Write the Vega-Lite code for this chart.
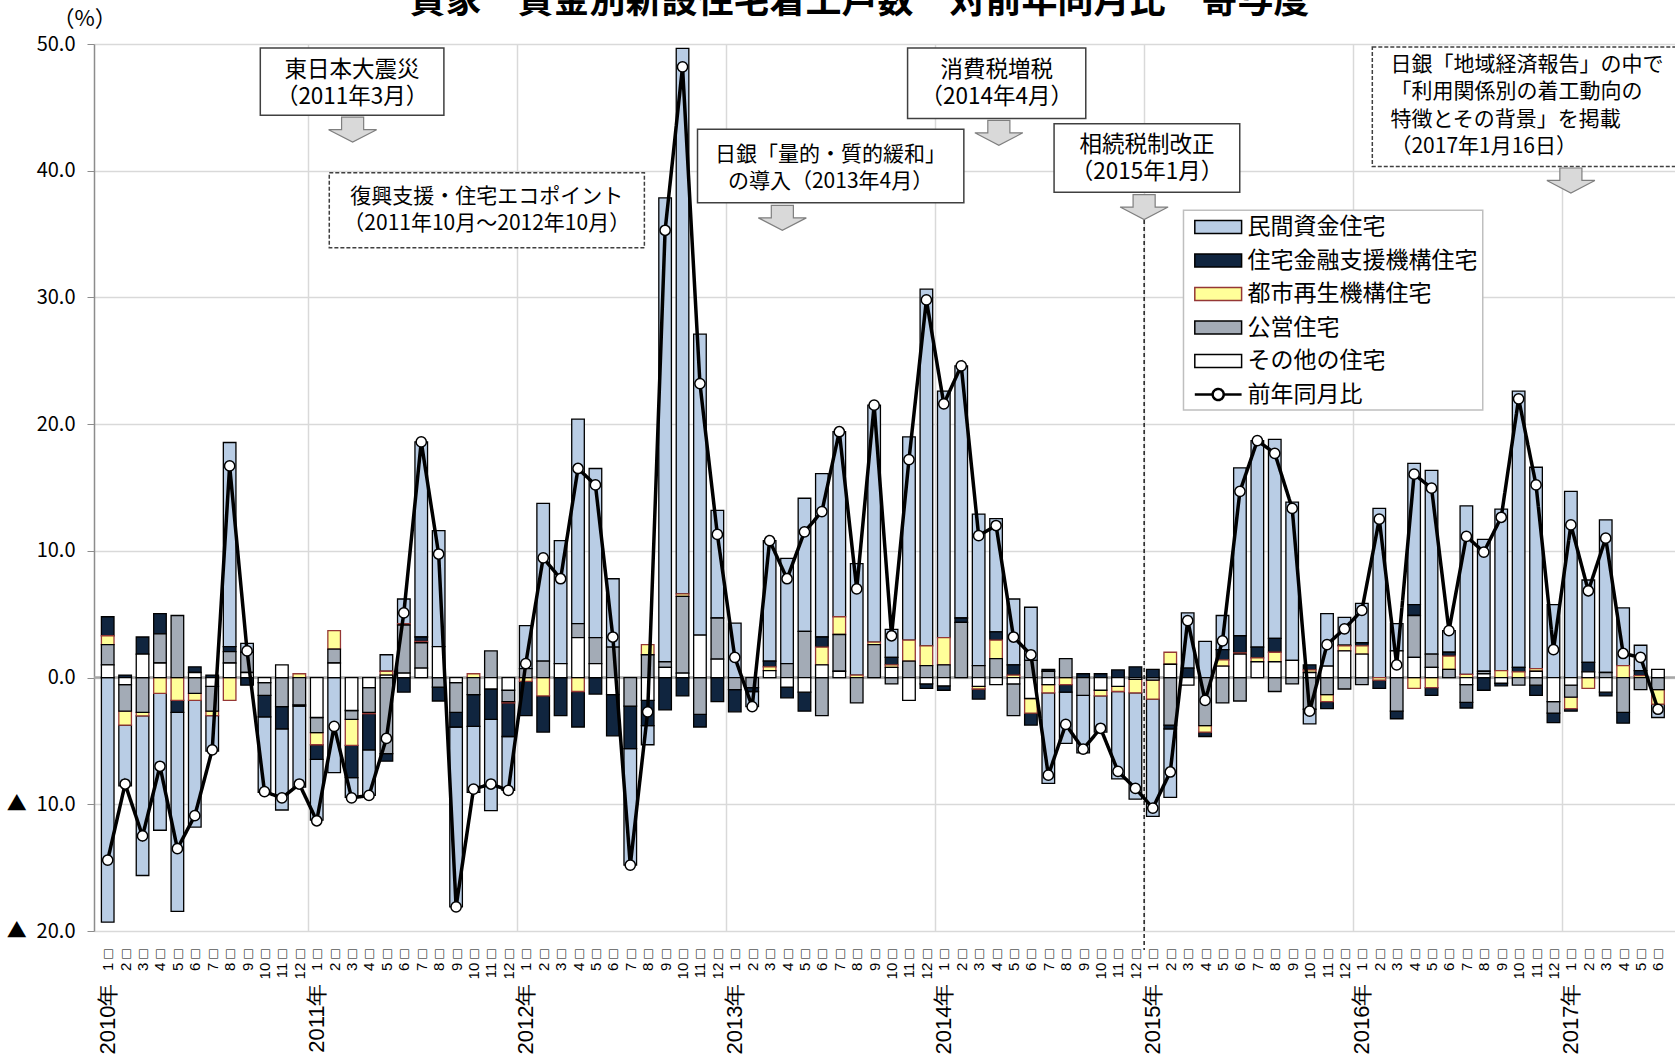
{
  "$schema": "https://vega.github.io/schema/vega-lite/v6.json",
  "width": 1581,
  "height": 887,
  "autosize": {"type": "none"},
  "padding": {"left": 94, "top": 44, "right": 0, "bottom": 127},
  "background": "white",
  "title": {
    "text": "貸家　資金別新設住宅着工戸数　対前年同月比　寄与度",
    "font": "Noto Sans CJK JP",
    "fontSize": 36,
    "fontWeight": "bold",
    "color": "black",
    "anchor": "middle",
    "frame": "group",
    "dx": -25,
    "dy": 18,
    "offset": 4
  },
  "config": {"view": {"stroke": null}, "font": "Noto Sans CJK JP"},
  "datasets": {
    "series": [
      {"key": "sonota", "name": "その他の住宅", "rank": 1},
      {"key": "koei", "name": "公営住宅", "rank": 2},
      {"key": "toshi", "name": "都市再生機構住宅", "rank": 3},
      {"key": "kinyu", "name": "住宅金融支援機構住宅", "rank": 4},
      {"key": "minkan", "name": "民間資金住宅", "rank": 5}
    ],
    "months": [
      {"n": 0, "minkan": -19.3, "kinyu": 1.5, "toshi": 0.7, "koei": 1.6, "sonota": 1.0, "yoy": -14.4},
      {"n": 1, "minkan": -4.8, "kinyu": 0.2, "toshi": -1.1, "koei": -2.1, "sonota": -0.55, "yoy": -8.4},
      {"n": 2, "minkan": -12.6, "kinyu": 1.35, "toshi": -0.27, "koei": -2.75, "sonota": 1.85, "yoy": -12.5},
      {"n": 3, "minkan": -10.8, "kinyu": 1.6, "toshi": -1.25, "koei": 2.3, "sonota": 1.15, "yoy": -7.0},
      {"n": 4, "minkan": -15.7, "kinyu": -0.95, "toshi": -1.8, "koei": 4.9, "sonota": 0, "yoy": -13.5},
      {"n": 5, "minkan": -10.0, "kinyu": 0.45, "toshi": -0.55, "koei": -1.25, "sonota": 0.4, "yoy": -10.9},
      {"n": 6, "minkan": -2.8, "kinyu": 0.2, "toshi": -0.35, "koei": -1.95, "sonota": -0.7, "yoy": -5.7},
      {"n": 7, "minkan": 16.1, "kinyu": 0.4, "toshi": -1.8, "koei": 0.9, "sonota": 1.15, "yoy": 16.7},
      {"n": 8, "minkan": 0.7, "kinyu": -0.6, "toshi": 0, "koei": 1.6, "sonota": 0.4, "yoy": 2.1},
      {"n": 9, "minkan": -5.95, "kinyu": -1.7, "toshi": 0, "koei": -1.0, "sonota": -0.4, "yoy": -9.0},
      {"n": 10, "minkan": -6.4, "kinyu": -1.75, "toshi": 0, "koei": -2.3, "sonota": 1.0, "yoy": -9.5},
      {"n": 11, "minkan": -6.4, "kinyu": -0.1, "toshi": 0.3, "koei": -2.15, "sonota": 0, "yoy": -8.4},
      {"n": 12, "minkan": -4.8, "kinyu": -1.15, "toshi": -0.95, "koei": -1.2, "sonota": -3.15, "yoy": -11.3},
      {"n": 13, "minkan": -7.5, "kinyu": 0, "toshi": 1.45, "koei": 1.1, "sonota": 1.15, "yoy": -3.85},
      {"n": 14, "minkan": -1.55, "kinyu": -2.55, "toshi": -2.05, "koei": -0.7, "sonota": -2.6, "yoy": -9.5},
      {"n": 15, "minkan": -3.6, "kinyu": -2.85, "toshi": -0.1, "koei": -1.95, "sonota": -0.8, "yoy": -9.3},
      {"n": 16, "minkan": 1.3, "kinyu": -0.6, "toshi": 0.3, "koei": -6.0, "sonota": 0.2, "yoy": -4.8},
      {"n": 17, "minkan": 1.95, "kinyu": -1.15, "toshi": 0.1, "koei": 3.8, "sonota": 0.35, "yoy": 5.1},
      {"n": 18, "minkan": 15.4, "kinyu": 0.35, "toshi": 0.1, "koei": 2.0, "sonota": 0.75, "yoy": 18.6},
      {"n": 19, "minkan": 9.15, "kinyu": -1.1, "toshi": 0, "koei": -0.75, "sonota": 2.45, "yoy": 9.75},
      {"n": 20, "minkan": -14.2, "kinyu": -1.15, "toshi": 0, "koei": -2.35, "sonota": -0.4, "yoy": -18.1},
      {"n": 21, "minkan": -5.2, "kinyu": -2.5, "toshi": 0.3, "koei": -1.35, "sonota": 0, "yoy": -8.8},
      {"n": 22, "minkan": -7.2, "kinyu": -2.4, "toshi": 0, "koei": 2.1, "sonota": -0.9, "yoy": -8.4},
      {"n": 23, "minkan": -4.25, "kinyu": -2.65, "toshi": -0.1, "koei": -0.9, "sonota": -1.0, "yoy": -8.9},
      {"n": 24, "minkan": 3.4, "kinyu": -2.7, "toshi": -0.3, "koei": 0.7, "sonota": 0, "yoy": 1.1},
      {"n": 25, "minkan": 12.45, "kinyu": -2.85, "toshi": -1.45, "koei": 1.3, "sonota": 0, "yoy": 9.45},
      {"n": 26, "minkan": 9.7, "kinyu": -3.0, "toshi": 0, "koei": 0, "sonota": 1.1, "yoy": 7.8},
      {"n": 27, "minkan": 16.15, "kinyu": -2.8, "toshi": -1.1, "koei": 1.1, "sonota": 3.15, "yoy": 16.5},
      {"n": 28, "minkan": 13.35, "kinyu": -1.3, "toshi": 0, "koei": 2.05, "sonota": 1.1, "yoy": 15.2},
      {"n": 29, "minkan": 5.4, "kinyu": -3.25, "toshi": 0, "koei": 2.4, "sonota": -1.35, "yoy": 3.2},
      {"n": 30, "minkan": -9.2, "kinyu": -3.35, "toshi": 0, "koei": -2.25, "sonota": 0, "yoy": -14.8},
      {"n": 31, "minkan": -1.5, "kinyu": -2.0, "toshi": 0.8, "koei": 1.8, "sonota": -1.8, "yoy": -2.7},
      {"n": 32, "minkan": 36.6, "kinyu": -2.55, "toshi": 0, "koei": 0.45, "sonota": 0.8, "yoy": 35.3},
      {"n": 33, "minkan": 43.05, "kinyu": -1.45, "toshi": 0.2, "koei": 6.05, "sonota": 0.35, "yoy": 48.2},
      {"n": 34, "minkan": 23.75, "kinyu": -1.0, "toshi": 0, "koei": -2.9, "sonota": 3.35, "yoy": 23.2},
      {"n": 35, "minkan": 8.5, "kinyu": -1.9, "toshi": 0, "koei": 3.25, "sonota": 1.45, "yoy": 11.3},
      {"n": 36, "minkan": 4.3, "kinyu": -1.75, "toshi": 0, "koei": -0.95, "sonota": 0, "yoy": 1.6},
      {"n": 37, "minkan": -1.2, "kinyu": -0.3, "toshi": 0, "koei": -0.8, "sonota": 0, "yoy": -2.3},
      {"n": 38, "minkan": 9.5, "kinyu": 0.45, "toshi": 0.3, "koei": 0, "sonota": 0.55, "yoy": 10.8},
      {"n": 39, "minkan": 8.3, "kinyu": -0.85, "toshi": 0, "koei": 1.1, "sonota": -0.75, "yoy": 7.8},
      {"n": 40, "minkan": 10.5, "kinyu": -1.5, "toshi": 0, "koei": 3.65, "sonota": -1.15, "yoy": 11.5},
      {"n": 41, "minkan": 12.9, "kinyu": 0.8, "toshi": 1.4, "koei": -3.0, "sonota": 1.0, "yoy": 13.1},
      {"n": 42, "minkan": 14.6, "kinyu": 0, "toshi": 1.4, "koei": 2.9, "sonota": 0.5, "yoy": 19.4},
      {"n": 43, "minkan": 8.8, "kinyu": 0, "toshi": 0.2, "koei": -2.0, "sonota": 0, "yoy": 7.0},
      {"n": 44, "minkan": 18.7, "kinyu": 0, "toshi": 0.2, "koei": 2.6, "sonota": 0, "yoy": 21.5},
      {"n": 45, "minkan": 2.2, "kinyu": 0.6, "toshi": 0.2, "koei": -0.5, "sonota": 0.8, "yoy": 3.3},
      {"n": 46, "minkan": 16.05, "kinyu": 0, "toshi": 1.65, "koei": 1.3, "sonota": -1.8, "yoy": 17.2},
      {"n": 47, "minkan": 28.15, "kinyu": -0.35, "toshi": 1.55, "koei": 0.95, "sonota": -0.5, "yoy": 29.8},
      {"n": 48, "minkan": 19.45, "kinyu": -0.35, "toshi": 2.15, "koei": 1.0, "sonota": -0.65, "yoy": 21.6},
      {"n": 49, "minkan": 19.9, "kinyu": 0.35, "toshi": 0, "koei": 4.35, "sonota": 0, "yoy": 24.6},
      {"n": 50, "minkan": 11.95, "kinyu": -0.8, "toshi": -0.2, "koei": 0.95, "sonota": -0.7, "yoy": 11.2},
      {"n": 51, "minkan": 8.95, "kinyu": 0.65, "toshi": 1.45, "koei": 1.5, "sonota": -0.55, "yoy": 12.0},
      {"n": 52, "minkan": 5.2, "kinyu": 0.8, "toshi": 0.2, "koei": -2.5, "sonota": -0.5, "yoy": 3.2},
      {"n": 53, "minkan": 4.2, "kinyu": -0.95, "toshi": -1.15, "koei": 1.35, "sonota": -1.65, "yoy": 1.8},
      {"n": 54, "minkan": -7.15, "kinyu": 0.15, "toshi": -0.65, "koei": 0.5, "sonota": -0.55, "yoy": -7.7},
      {"n": 55, "minkan": -4.05, "kinyu": -0.6, "toshi": -0.55, "koei": 1.5, "sonota": 0, "yoy": -3.7},
      {"n": 56, "minkan": -4.55, "kinyu": 0.3, "toshi": 0, "koei": -1.4, "sonota": 0, "yoy": -5.65},
      {"n": 57, "minkan": -2.85, "kinyu": 0.3, "toshi": -0.45, "koei": 0, "sonota": -1.0, "yoy": -4.0},
      {"n": 58, "minkan": -6.9, "kinyu": 0.6, "toshi": -0.4, "koei": 0, "sonota": -0.7, "yoy": -7.4},
      {"n": 59, "minkan": -8.4, "kinyu": 0.85, "toshi": -1.05, "koei": 0, "sonota": -0.15, "yoy": -8.75},
      {"n": 60, "minkan": -9.25, "kinyu": 0.65, "toshi": -1.5, "koei": -0.2, "sonota": 0, "yoy": -10.3},
      {"n": 61, "minkan": -5.4, "kinyu": -0.3, "toshi": 0.95, "koei": -3.75, "sonota": 1.05, "yoy": -7.45},
      {"n": 62, "minkan": 4.35, "kinyu": 0.75, "toshi": 0, "koei": 0, "sonota": -0.6, "yoy": 4.5},
      {"n": 63, "minkan": 2.85, "kinyu": -0.35, "toshi": -0.5, "koei": -3.8, "sonota": 0, "yoy": -1.8},
      {"n": 64, "minkan": 2.7, "kinyu": 0.8, "toshi": 0.5, "koei": -2.0, "sonota": 0.9, "yoy": 2.9},
      {"n": 65, "minkan": 13.25, "kinyu": 1.35, "toshi": 0.1, "koei": -1.85, "sonota": 1.85, "yoy": 14.7},
      {"n": 66, "minkan": 16.3, "kinyu": 0.85, "toshi": 0.3, "koei": 0, "sonota": 1.25, "yoy": 18.7},
      {"n": 67, "minkan": 15.7, "kinyu": 1.1, "toshi": 0.75, "koei": -1.1, "sonota": 1.25, "yoy": 17.7},
      {"n": 68, "minkan": 12.5, "kinyu": 0, "toshi": 0, "koei": -0.5, "sonota": 1.35, "yoy": 13.35},
      {"n": 69, "minkan": -1.15, "kinyu": 0.4, "toshi": 0.2, "koei": -2.5, "sonota": 0.4, "yoy": -2.65},
      {"n": 70, "minkan": 4.15, "kinyu": -0.55, "toshi": -0.55, "koei": -1.35, "sonota": 0.9, "yoy": 2.6},
      {"n": 71, "minkan": 2.2, "kinyu": 0.05, "toshi": 0.4, "koei": -0.9, "sonota": 2.1, "yoy": 3.85},
      {"n": 72, "minkan": 3.1, "kinyu": 0.25, "toshi": 0.65, "koei": -0.55, "sonota": 1.85, "yoy": 5.3},
      {"n": 73, "minkan": 13.35, "kinyu": -0.65, "toshi": -0.2, "koei": 0, "sonota": 0, "yoy": 12.5},
      {"n": 74, "minkan": 2.15, "kinyu": -0.6, "toshi": 0, "koei": -2.65, "sonota": 2.1, "yoy": 1.0},
      {"n": 75, "minkan": 11.15, "kinyu": 0.85, "toshi": -0.85, "koei": 3.3, "sonota": 1.6, "yoy": 16.05},
      {"n": 76, "minkan": 14.5, "kinyu": -0.6, "toshi": -0.8, "koei": 1.05, "sonota": 0.8, "yoy": 14.95},
      {"n": 77, "minkan": 1.7, "kinyu": 0.3, "toshi": 1.05, "koei": 0.65, "sonota": 0, "yoy": 3.7},
      {"n": 78, "minkan": 13.3, "kinyu": -0.45, "toshi": 0.25, "koei": -1.4, "sonota": -0.55, "yoy": 11.15},
      {"n": 79, "minkan": 10.4, "kinyu": -1.0, "toshi": 0, "koei": 0.2, "sonota": 0.3, "yoy": 9.9},
      {"n": 80, "minkan": 12.75, "kinyu": -0.2, "toshi": 0.55, "koei": 0, "sonota": -0.45, "yoy": 12.65},
      {"n": 81, "minkan": 21.8, "kinyu": 0.35, "toshi": 0.45, "koei": -0.6, "sonota": 0, "yoy": 22.0},
      {"n": 82, "minkan": 15.9, "kinyu": -0.8, "toshi": 0.2, "koei": -0.6, "sonota": 0.5, "yoy": 15.2},
      {"n": 83, "minkan": 5.75, "kinyu": -0.75, "toshi": 0, "koei": -0.9, "sonota": -1.9, "yoy": 2.2},
      {"n": 84, "minkan": 14.7, "kinyu": -0.2, "toshi": -0.9, "koei": -0.95, "sonota": -0.6, "yoy": 12.05},
      {"n": 85, "minkan": 6.5, "kinyu": 0.75, "toshi": -0.85, "koei": 0, "sonota": 0.45, "yoy": 6.85},
      {"n": 86, "minkan": 12.05, "kinyu": -0.3, "toshi": 0, "koei": 0.4, "sonota": -1.15, "yoy": 11.0},
      {"n": 87, "minkan": 4.55, "kinyu": -0.85, "toshi": 0.95, "koei": -2.75, "sonota": 0, "yoy": 1.9},
      {"n": 88, "minkan": 2.0, "kinyu": 0.4, "toshi": 0.15, "koei": -0.95, "sonota": 0, "yoy": 1.6},
      {"n": 89, "minkan": -1.05, "kinyu": 0, "toshi": -1.15, "koei": -0.95, "sonota": 0.65, "yoy": -2.5}
    ]
  },
  "resolve": {"axis": {"x": "independent", "y": "independent"}},
  "layer": [
    {
      "data": {"name": "months"},
      "mark": {"type": "line", "color": "black", "strokeWidth": 3.5, "opacity": 0},
      "encoding": {
        "x": {
          "field": "n", "type": "quantitative",
          "scale": {"domain": [-0.5, 89.69], "nice": false, "zero": false},
          "axis": {
            "orient": "top",
            "values": [11.5, 23.5, 35.5, 47.5, 59.5, 71.5, 83.5],
            "grid": true, "gridColor": "#d9d9d9", "gridWidth": 1.5,
            "labels": false, "ticks": false, "domain": false, "title": null
          }
        },
        "y": {
          "field": "yoy", "type": "quantitative",
          "scale": {"domain": [-20, 50], "nice": false, "zero": false},
          "axis": {
            "orient": "left",
            "values": [-20, -10, 0, 10, 20, 30, 40, 50],
            "labelExpr": "datum.value < 0 ? '▲\u2002' + format(-datum.value, '.1f') : format(datum.value, '.1f')",
            "labelFont": "Noto Sans CJK JP",
            "labelFontSize": 20,
            "labelColor": "black",
            "labelPadding": 12,
            "tickSize": 7, "tickColor": "#8c8c8c",
            "domainColor": "#8c8c8c", "domainWidth": 1.5,
            "grid": true, "gridColor": "#d9d9d9", "gridWidth": 1.5,
            "title": "（%）",
            "titleAngle": 0, "titleX": -10, "titleY": -26,
            "titleAlign": "center", "titleBaseline": "middle",
            "titleFont": "Noto Sans CJK JP", "titleFontSize": 22, "titleFontWeight": "normal", "titleColor": "black"
          }
        }
      }
    },
    {
      "data": {"values": [{}]},
      "mark": {"type": "rule", "stroke": "#a6a6a6", "strokeWidth": 2.5},
      "encoding": {
        "y": {"datum": 0, "type": "quantitative", "axis": null}
      }
    },
    {
      "data": {"name": "months"},
      "transform": [
        {"fold": ["minkan", "kinyu", "toshi", "koei", "sonota"], "as": ["key", "value"]},
        {"filter": "datum.value != 0"},
        {"lookup": "key", "from": {"data": {"name": "series"}, "key": "key", "fields": ["name", "rank"]}}
      ],
      "mark": {"type": "bar", "orient": "vertical", "width": 12.6, "strokeWidth": 1.3},
      "encoding": {
        "x": {"field": "n", "type": "quantitative", "axis": null},
        "y": {"field": "value", "type": "quantitative", "stack": "zero", "axis": null},
        "fill": {
          "field": "name", "type": "nominal",
          "scale": {
            "domain": ["民間資金住宅", "住宅金融支援機構住宅", "都市再生機構住宅", "公営住宅", "その他の住宅"],
            "range": ["#b9cde5", "#10253f", "#ffff99", "#a3abb6", "#ffffff"]
          },
          "legend": {
            "orient": "none", "legendX": 1112.7, "legendY": 171.5, "title": null, "padding": 0,
            "symbolType": "M-3.6,-1H3.6V1H-3.6Z", "symbolSize": 169, "symbolStrokeWidth": 1.5,
            "labelFont": "Noto Sans CJK JP", "labelFontSize": 23, "labelColor": "black",
            "labelOffset": 17.7, "rowPadding": 9.5, "labelLimit": 400
          }
        },
        "stroke": {
          "field": "name", "type": "nominal",
          "scale": {
            "domain": ["民間資金住宅", "住宅金融支援機構住宅", "都市再生機構住宅", "公営住宅", "その他の住宅"],
            "range": ["#000000", "#000000", "#953735", "#000000", "#000000"]
          },
          "legend": {
            "orient": "none", "legendX": 1112.7, "legendY": 171.5, "title": null, "padding": 0,
            "symbolType": "M-3.6,-1H3.6V1H-3.6Z", "symbolSize": 169, "symbolStrokeWidth": 1.5,
            "labelFont": "Noto Sans CJK JP", "labelFontSize": 23, "labelColor": "black",
            "labelOffset": 17.7, "rowPadding": 9.5, "labelLimit": 400
          }
        },
        "order": {"field": "rank", "type": "quantitative", "sort": "ascending"}
      }
    },
    {
      "data": {"name": "months"},
      "mark": {"type": "line", "color": "black", "strokeWidth": 3.5},
      "encoding": {
        "x": {
          "field": "n", "type": "quantitative",
          "axis": {
            "orient": "bottom",
            "values": [0,1,2,3,4,5,6,7,8,9,10,11,12,13,14,15,16,17,18,19,20,21,22,23,24,25,26,27,28,29,30,31,32,33,34,35,36,37,38,39,40,41,42,43,44,45,46,47,48,49,50,51,52,53,54,55,56,57,58,59,60,61,62,63,64,65,66,67,68,69,70,71,72,73,74,75,76,77,78,79,80,81,82,83,84,85,86,87,88,89],
            "labelExpr": "toString(datum.value % 12 + 1) + ' □'",
            "labelAngle": -90, "labelAlign": "right", "labelBaseline": "middle",
            "labelFont": "Liberation Sans, Noto Sans CJK JP, sans-serif", "labelFontSize": 15, "labelColor": "black",
            "labelPadding": 18, "labelOverlap": false, "labelFlush": false, "labelBound": false,
            "ticks": false, "domain": false, "grid": false, "title": null
          }
        },
        "y": {"field": "yoy", "type": "quantitative", "axis": null},
        "strokeDash": {
          "datum": "前年同月比",
          "scale": {"domain": ["前年同月比"], "range": [[1, 0]]},
          "legend": {
            "orient": "none", "legendX": 1112.7, "legendY": 339, "title": null, "padding": 0,
            "symbolType": "M-3.6,0H-0.85M0.85,0H3.6M-0.85,0A0.85,0.85,0,1,1,0.85,0A0.85,0.85,0,1,1,-0.85,0Z",
            "symbolSize": 169, "symbolStrokeWidth": 2.5, "symbolStrokeColor": "black", "symbolFillColor": "white",
            "labelFont": "Noto Sans CJK JP", "labelFontSize": 23, "labelColor": "black",
            "labelOffset": 17.7, "labelLimit": 400,
            "encode": {"symbols": {"update": {"fill": {"value": "white"}, "stroke": {"value": "black"}, "strokeWidth": {"value": 2.5}, "opacity": {"value": 1}}}}
          }
        }
      }
    },
    {
      "data": {"name": "months"},
      "mark": {"type": "point", "shape": "circle", "filled": true, "fill": "white", "stroke": "black", "strokeWidth": 1.5, "size": 105, "opacity": 1},
      "encoding": {
        "x": {
          "field": "n", "type": "quantitative",
          "axis": {
            "orient": "bottom",
            "values": [0, 12, 24, 36, 48, 60, 72, 84],
            "labelExpr": "toString(2010 + floor(datum.value / 12)) + '年'",
            "labelAngle": -90, "labelAlign": "right", "labelBaseline": "middle",
            "labelFont": "Liberation Sans, Arial, sans-serif", "labelFontSize": 22, "labelColor": "black",
            "labelPadding": 52, "labelOverlap": false, "labelFlush": false, "labelBound": false,
            "ticks": false, "domain": false, "grid": false, "title": null
          }
        },
        "y": {"field": "yoy", "type": "quantitative", "axis": null}
      }
    },
    {
      "data": {"values": [{}]},
      "mark": {"type": "rule", "stroke": "black", "strokeWidth": 1.3, "strokeDash": [4, 3]},
      "encoding": {
        "x": {"datum": 59.5, "type": "quantitative", "axis": null},
        "y": {"datum": 36.12, "type": "quantitative", "axis": null},
        "y2": {"datum": -21.5}
      }
    },
    {
      "data": {"values": [{}]},
      "mark": {"type": "rect", "fill": "white", "stroke": "#bfbfbf", "strokeWidth": 1.5},
      "encoding": {
        "x": {"datum": 61.76, "type": "quantitative", "axis": null},
        "x2": {"datum": 78.94},
        "y": {"datum": 36.88, "type": "quantitative", "axis": null},
        "y2": {"datum": 21.11}
      }
    },
    {
      "data": {"values": [{}]},
      "mark": {"type": "rect", "fill": "white", "stroke": "#404040", "strokeWidth": 1.5},
      "encoding": {
        "x": {"datum": 8.76, "type": "quantitative", "axis": null},
        "x2": {"datum": 19.3},
        "y": {"datum": 49.69, "type": "quantitative", "axis": null},
        "y2": {"datum": 44.38}
      }
    },
    {
      "data": {"values": [{}]},
      "mark": {"type": "rect", "fill": "white", "stroke": "#404040", "strokeWidth": 1.5, "strokeDash": [4, 2]},
      "encoding": {
        "x": {"datum": 12.72, "type": "quantitative", "axis": null},
        "x2": {"datum": 30.81},
        "y": {"datum": 39.83, "type": "quantitative", "axis": null},
        "y2": {"datum": 33.92}
      }
    },
    {
      "data": {"values": [{}]},
      "mark": {"type": "rect", "fill": "white", "stroke": "#404040", "strokeWidth": 1.5},
      "encoding": {
        "x": {"datum": 33.86, "type": "quantitative", "axis": null},
        "x2": {"datum": 49.15},
        "y": {"datum": 43.28, "type": "quantitative", "axis": null},
        "y2": {"datum": 37.47}
      }
    },
    {
      "data": {"values": [{}]},
      "mark": {"type": "rect", "fill": "white", "stroke": "#404040", "strokeWidth": 1.5},
      "encoding": {
        "x": {"datum": 45.92, "type": "quantitative", "axis": null},
        "x2": {"datum": 56.15},
        "y": {"datum": 49.69, "type": "quantitative", "axis": null},
        "y2": {"datum": 44.13}
      }
    },
    {
      "data": {"values": [{}]},
      "mark": {"type": "rect", "fill": "white", "stroke": "#404040", "strokeWidth": 1.5},
      "encoding": {
        "x": {"datum": 54.33, "type": "quantitative", "axis": null},
        "x2": {"datum": 64.99},
        "y": {"datum": 43.7, "type": "quantitative", "axis": null},
        "y2": {"datum": 38.31}
      }
    },
    {
      "data": {"values": [{}]},
      "mark": {"type": "rect", "fill": "white", "stroke": "#404040", "strokeWidth": 1.5, "strokeDash": [4, 2]},
      "encoding": {
        "x": {"datum": 72.6, "type": "quantitative", "axis": null},
        "x2": {"datum": 92},
        "y": {"datum": 49.77, "type": "quantitative", "axis": null},
        "y2": {"datum": 40.33}
      }
    },
    {
      "data": {"values": [{}]},
      "mark": {"type": "text", "text": ["東日本大震災", "（2011年3月）"], "font": "Noto Sans CJK JP", "fontSize": 22.5, "lineHeight": 27, "align": "center", "baseline": "middle", "color": "black"},
      "encoding": {
        "x": {"datum": 14.03, "type": "quantitative", "axis": null},
        "y": {"datum": 47.92, "type": "quantitative", "axis": null}
      }
    },
    {
      "data": {"values": [{}]},
      "mark": {"type": "text", "text": ["復興支援・住宅エコポイント", "（2011年10月～2012年10月）"], "font": "Noto Sans CJK JP", "fontSize": 21, "lineHeight": 27, "align": "center", "baseline": "middle", "color": "black"},
      "encoding": {
        "x": {"datum": 21.76, "type": "quantitative", "axis": null},
        "y": {"datum": 37.9, "type": "quantitative", "axis": null}
      }
    },
    {
      "data": {"values": [{}]},
      "mark": {"type": "text", "text": ["日銀「量的・質的緩和」", "の導入（2013年4月）"], "font": "Noto Sans CJK JP", "fontSize": 21, "lineHeight": 27, "align": "center", "baseline": "middle", "color": "black"},
      "encoding": {
        "x": {"datum": 41.5, "type": "quantitative", "axis": null},
        "y": {"datum": 41.27, "type": "quantitative", "axis": null}
      }
    },
    {
      "data": {"values": [{}]},
      "mark": {"type": "text", "text": ["消費税増税", "（2014年4月）"], "font": "Noto Sans CJK JP", "fontSize": 22.5, "lineHeight": 27, "align": "center", "baseline": "middle", "color": "black"},
      "encoding": {
        "x": {"datum": 51.04, "type": "quantitative", "axis": null},
        "y": {"datum": 47.92, "type": "quantitative", "axis": null}
      }
    },
    {
      "data": {"values": [{}]},
      "mark": {"type": "text", "text": ["相続税制改正", "（2015年1月）"], "font": "Noto Sans CJK JP", "fontSize": 22.5, "lineHeight": 27, "align": "center", "baseline": "middle", "color": "black"},
      "encoding": {
        "x": {"datum": 59.66, "type": "quantitative", "axis": null},
        "y": {"datum": 42.03, "type": "quantitative", "axis": null}
      }
    },
    {
      "data": {"values": [{}]},
      "mark": {"type": "text", "text": ["日銀「地域経済報告」の中で", "「利用関係別の着工動向の", "特徴とその背景」を掲載", "（2017年1月16日）"], "font": "Noto Sans CJK JP", "fontSize": 21, "lineHeight": 27.5, "align": "left", "baseline": "middle", "color": "black"},
      "encoding": {
        "x": {"datum": 73.64, "type": "quantitative", "axis": null},
        "y": {"datum": 48.35, "type": "quantitative", "axis": null}
      }
    },
    {
      "data": {"values": [{}]},
      "mark": {"type": "point", "shape": "M-0.46,-0.52H0.46V0H1L0,0.52L-1,0H-0.46Z", "size": 2304, "filled": true, "fill": "#d9d9d9", "stroke": "#7f7f7f", "strokeWidth": 1.2, "opacity": 1},
      "encoding": {
        "x": {"datum": 14.06, "type": "quantitative", "axis": null},
        "y": {"datum": 43.24, "type": "quantitative", "axis": null}
      }
    },
    {
      "data": {"values": [{}]},
      "mark": {"type": "point", "shape": "M-0.46,-0.52H0.46V0H1L0,0.52L-1,0H-0.46Z", "size": 2304, "filled": true, "fill": "#d9d9d9", "stroke": "#7f7f7f", "strokeWidth": 1.2, "opacity": 1},
      "encoding": {
        "x": {"datum": 38.73, "type": "quantitative", "axis": null},
        "y": {"datum": 36.28, "type": "quantitative", "axis": null}
      }
    },
    {
      "data": {"values": [{}]},
      "mark": {"type": "point", "shape": "M-0.46,-0.52H0.46V0H1L0,0.52L-1,0H-0.46Z", "size": 2304, "filled": true, "fill": "#d9d9d9", "stroke": "#7f7f7f", "strokeWidth": 1.2, "opacity": 1},
      "encoding": {
        "x": {"datum": 51.16, "type": "quantitative", "axis": null},
        "y": {"datum": 42.99, "type": "quantitative", "axis": null}
      }
    },
    {
      "data": {"values": [{}]},
      "mark": {"type": "point", "shape": "M-0.46,-0.52H0.46V0H1L0,0.52L-1,0H-0.46Z", "size": 2304, "filled": true, "fill": "#d9d9d9", "stroke": "#7f7f7f", "strokeWidth": 1.2, "opacity": 1},
      "encoding": {
        "x": {"datum": 59.5, "type": "quantitative", "axis": null},
        "y": {"datum": 37.13, "type": "quantitative", "axis": null}
      }
    },
    {
      "data": {"values": [{}]},
      "mark": {"type": "point", "shape": "M-0.46,-0.52H0.46V0H1L0,0.52L-1,0H-0.46Z", "size": 2304, "filled": true, "fill": "#d9d9d9", "stroke": "#7f7f7f", "strokeWidth": 1.2, "opacity": 1},
      "encoding": {
        "x": {"datum": 84.0, "type": "quantitative", "axis": null},
        "y": {"datum": 39.23, "type": "quantitative", "axis": null}
      }
    }
  ]
}
